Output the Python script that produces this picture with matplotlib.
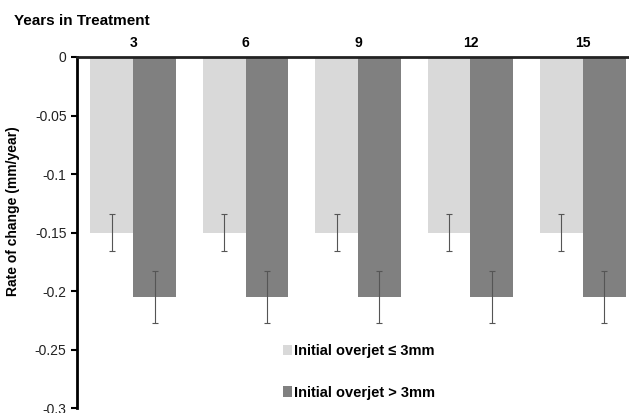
import matplotlib.pyplot as plt
import numpy as np

years = ['3', '6', '9', '12', '15']
small_oj = [-0.15, -0.15, -0.15, -0.15, -0.15]
small_err = [0.016, 0.016, 0.016, 0.016, 0.016]
large_oj = [-0.205, -0.205, -0.205, -0.205, -0.205]
large_err = [0.022, 0.022, 0.022, 0.022, 0.022]

plt.rcParams['font.family'] = ['Liberation Sans', 'DejaVu Sans']

fig = plt.figure(figsize=(6.29, 4.13), dpi=100)
ax = fig.add_axes([0.1224, 0.012, 0.8935, 0.85])

x = np.arange(len(years))
w = 0.38
ax.bar(x - w/2, small_oj, w, color='#d9d9d9', label='Initial overjet \u2264 3mm')
ax.bar(x + w/2, large_oj, w, color='#808080', label='Initial overjet > 3mm')
ax.errorbar(x - w/2, small_oj, yerr=small_err, fmt='none', ecolor='#555555',
            elinewidth=0.8, capsize=2.5, capthick=0.8)
ax.errorbar(x + w/2, large_oj, yerr=large_err, fmt='none', ecolor='#555555',
            elinewidth=0.8, capsize=2.5, capthick=0.8)

ax.set_xlim(-0.5, len(years) - 0.5)
ax.set_ylim(-0.3, 0)
ax.set_yticks([0, -0.05, -0.1, -0.15, -0.2, -0.25, -0.3])
ax.set_yticklabels(['0', '-0.05', '-0.1', '-0.15', '-0.2', '-0.25', '-0.3'],
                   fontsize=10, color='#222222')
ax.xaxis.tick_top()
ax.set_xticks(x)
ax.set_xticklabels(years, fontsize=10, fontweight='bold')
ax.tick_params(axis='x', length=0, pad=5)
ax.tick_params(axis='y', direction='out', length=4, width=1.5)

for side in ['right', 'bottom']:
    ax.spines[side].set_visible(False)
ax.spines['left'].set_linewidth(2)
ax.spines['top'].set_linewidth(2)
ax.spines['top'].set_color('#222222')

ax.set_ylabel('Rate of change (mm/year)', fontsize=10, fontweight='bold')
ax.yaxis.set_label_coords(-0.101, 0.56)
fig.text(0.022, 0.95, 'Years in Treatment', fontsize=11, fontweight='bold', va='center')

leg = ax.legend(loc='upper left', bbox_to_anchor=(0.343, 0.22), frameon=False,
                prop={'weight': 'bold', 'size': 10.5}, handlelength=0.6, handleheight=0.7,
                handletextpad=0.15, labelspacing=1.9)

fig.savefig('out.png', dpi=100)
